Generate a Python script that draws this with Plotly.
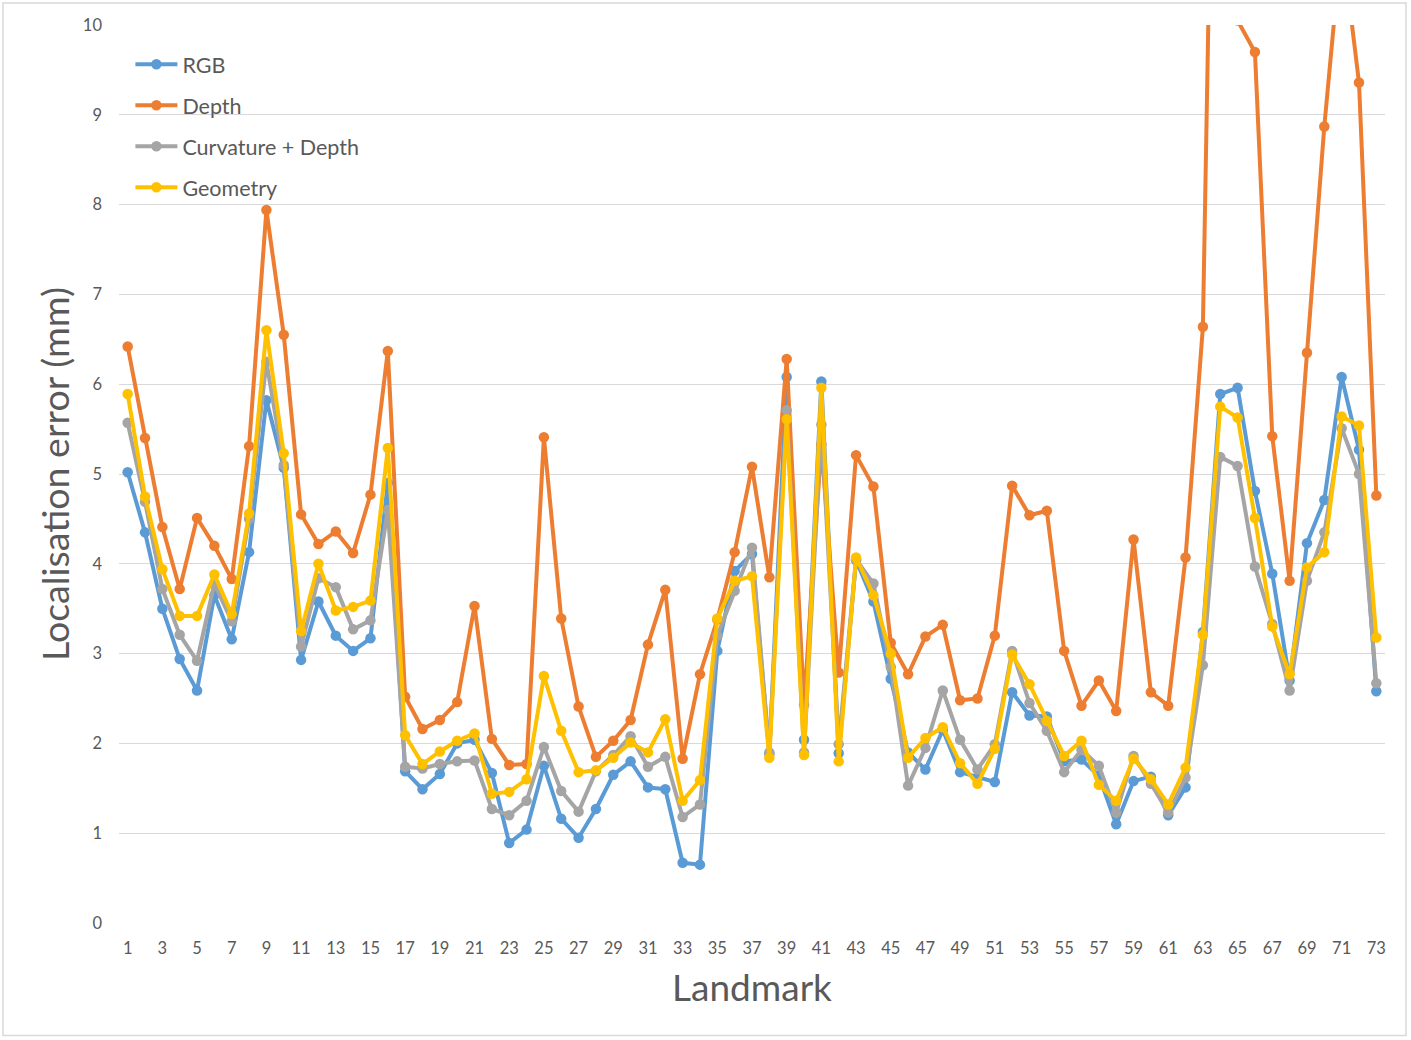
import plotly.graph_objects as go

landmarks = list(range(1, 74))

rgb = [5.02, 4.35, 3.50, 2.94, 2.59, 3.65, 3.16, 4.13, 5.82, 5.07,
       2.93, 3.58, 3.20, 3.03, 3.17, 4.90, 1.69, 1.49, 1.66, 2.00,
       2.04, 1.67, 0.89, 1.04, 1.75, 1.16, 0.95, 1.27, 1.65, 1.80,
       1.51, 1.49, 0.67, 0.65, 3.03, 3.92, 4.11, 1.88, 6.08, 2.04,
       6.03, 1.89, 4.04, 3.58, 2.72, 1.90, 1.71, 2.15, 1.68, 1.62,
       1.57, 2.57, 2.31, 2.30, 1.80, 1.82, 1.64, 1.10, 1.58, 1.63,
       1.20, 1.51, 3.24, 5.89, 5.96, 4.81, 3.89, 2.70, 4.23, 4.71,
       6.08, 5.27, 2.58]

depth = [6.42, 5.40, 4.41, 3.72, 4.51, 4.20, 3.83, 5.31, 7.94, 6.55,
         4.55, 4.22, 4.36, 4.12, 4.77, 6.37, 2.52, 2.16, 2.26, 2.46,
         3.53, 2.05, 1.76, 1.77, 5.41, 3.39, 2.41, 1.85, 2.03, 2.26,
         3.10, 3.71, 1.83, 2.77, 3.38, 4.13, 5.08, 3.85, 6.28, 2.43,
         5.33, 2.79, 5.21, 4.86, 3.12, 2.77, 3.19, 3.32, 2.48, 2.50,
         3.20, 4.87, 4.54, 4.59, 3.03, 2.42, 2.70, 2.36, 4.27, 2.57,
         2.42, 4.07, 6.64, 17.5, 10.05, 9.70, 5.42, 3.81, 6.35, 8.87,
         10.95, 9.36, 4.76]

curv_depth = [5.57, 4.69, 3.72, 3.21, 2.92, 3.78, 3.36, 4.50, 6.25, 5.10,
              3.08, 3.84, 3.74, 3.27, 3.37, 4.60, 1.74, 1.72, 1.77, 1.80,
              1.81, 1.27, 1.20, 1.36, 1.96, 1.47, 1.24, 1.69, 1.87, 2.08,
              1.74, 1.85, 1.18, 1.32, 3.20, 3.70, 4.18, 1.90, 5.71, 1.90,
              5.55, 1.99, 4.05, 3.78, 2.85, 1.53, 1.95, 2.59, 2.04, 1.71,
              1.99, 3.03, 2.45, 2.14, 1.68, 1.93, 1.75, 1.23, 1.86, 1.55,
              1.23, 1.62, 2.87, 5.19, 5.09, 3.97, 3.33, 2.59, 3.81, 4.35,
              5.51, 5.00, 2.67]

geometry = [5.89, 4.75, 3.94, 3.42, 3.42, 3.88, 3.44, 4.56, 6.60, 5.23,
            3.25, 4.00, 3.48, 3.52, 3.59, 5.29, 2.09, 1.77, 1.91, 2.03,
            2.11, 1.44, 1.46, 1.60, 2.75, 2.14, 1.68, 1.70, 1.84, 2.01,
            1.90, 2.27, 1.36, 1.59, 3.39, 3.81, 3.86, 1.84, 5.61, 1.87,
            5.96, 1.80, 4.07, 3.65, 3.00, 1.84, 2.06, 2.18, 1.78, 1.55,
            1.94, 2.99, 2.66, 2.25, 1.86, 2.03, 1.54, 1.36, 1.83, 1.60,
            1.32, 1.73, 3.21, 5.75, 5.63, 4.51, 3.30, 2.77, 3.96, 4.13,
            5.64, 5.54, 3.18]

series_names = ["RGB", "Depth", "Curvature + Depth", "Geometry"]
series_colors = ["#5B9BD5", "#ED7D31", "#A5A5A5", "#FFC000"]
series_values = [rgb, depth, curv_depth, geometry]

x_tick_labels = [str(v) for v in landmarks[::2]]
y_ticks = list(range(0, 11))

FONT = "Lato, Open Sans, sans-serif"
TXT = "#595959"

fig = go.Figure()
for name, color, vals in zip(series_names, series_colors, series_values):
    fig.add_trace(go.Scatter(
        x=landmarks, y=vals, name=name, mode="lines+markers",
        line=dict(color=color, width=4),
        marker=dict(color=color, size=10.5),
        legendgroup=name, cliponaxis=True,
    ))

fig.update_layout(
    width=1411, height=1040,
    margin=dict(l=119, r=26, t=25, b=117),
    paper_bgcolor="white", plot_bgcolor="white",
    font=dict(family=FONT, color=TXT, size=16.5),
    showlegend=True,
    legend=dict(
        x=0.009, y=0.979, xanchor="left", yanchor="top",
        font=dict(size=21.5, color=TXT, family=FONT),
        bgcolor="rgba(0,0,0,0)", tracegroupgap=10,
        traceorder="grouped", itemwidth=42,
    ),
    xaxis=dict(
        range=[0.5, 73.5], tickmode="array",
        tickvals=landmarks[::2], ticktext=x_tick_labels,
        showgrid=False, zeroline=False, showline=False, ticks="",
        ticklabelstandoff=13,
        tickfont=dict(size=16.5, color=TXT, family=FONT),
        title=dict(text="Landmark", font=dict(size=37, color=TXT, family=FONT), standoff=18),
    ),
    yaxis=dict(
        range=[0, 10], tickmode="array", tickvals=y_ticks,
        showgrid=True, gridcolor="#D9D9D9", gridwidth=1.3,
        zeroline=False, showline=False, ticks="",
        ticklabelstandoff=16,
        tickfont=dict(size=16.5, color=TXT, family=FONT),
        title=dict(text="Localisation error (mm)", font=dict(size=37.5, color=TXT, family=FONT), standoff=1),
    ),
)

# Chart-area border, as drawn around an embedded spreadsheet chart
fig.add_shape(type="rect", xref="paper", yref="paper",
              x0=(3 - 119) / 1266, x1=(1406 - 119) / 1266,
              y0=(923 - 1035.5) / 898, y1=(923 - 3) / 898,
              line=dict(color="#D9D9D9", width=1.5), layer="below")

fig.write_html("out.html", config={"displayModeBar": False},
               post_script="document.body.style.margin='0px';")
